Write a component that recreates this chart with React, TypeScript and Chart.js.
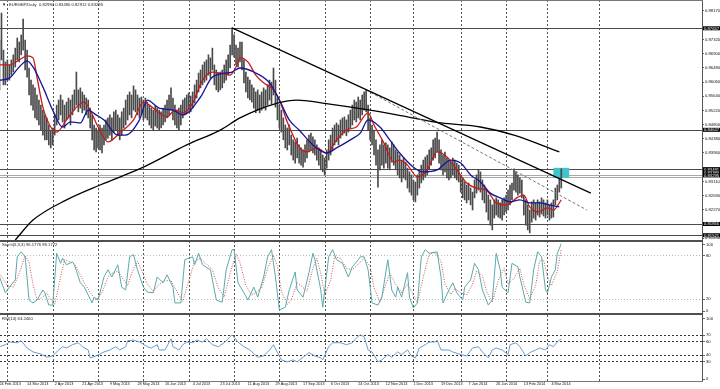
import React, { useEffect, useRef } from "react";
import { Chart, registerables } from "chart.js";

Chart.register(...registerables);

// ---------------- data ----------------
const symbolTitle = "EURGBP,Daily";
const lastOHLC = ["0.82984", "0.83490", "0.82912", "0.83295"];
const stochTitle = "Stoch(5,3,3) 96.1776 89.1772";
const rsiTitle = "RSI(14) 63.2400";

const dateLabels = [
  "24 Feb 2013", "14 Mar 2013", "2 Apr 2013", "21 Apr 2013", "9 May 2013", "28 May 2013",
  "16 Jun 2013", "4 Jul 2013", "23 Jul 2013", "11 Aug 2013", "29 Aug 2013", "17 Sep 2013",
  "6 Oct 2013", "24 Oct 2013", "12 Nov 2013", "1 Dec 2013", "19 Dec 2013", "7 Jan 2014",
  "26 Jan 2014", "13 Feb 2014", "4 Mar 2014",
];
const barsPerLabel = 14;
const monthStartBars = [4, 27, 50, 73, 96, 119, 142, 165, 188, 210, 234, 257, 278, 304];

const highs = [
  0.8731, 0.8811, 0.8701, 0.8666, 0.8672, 0.8657, 0.8672, 0.8687, 0.8707, 0.8737,
  0.8725, 0.8746, 0.8793, 0.8731, 0.8701, 0.8648, 0.8612, 0.8598, 0.8589, 0.8568,
  0.8553, 0.8538, 0.8523, 0.8509, 0.8500, 0.8479, 0.8464, 0.8470, 0.8509, 0.8538,
  0.8553, 0.8568, 0.8553, 0.8538, 0.8547, 0.8559, 0.8553, 0.8568, 0.8583, 0.8636,
  0.8583, 0.8589, 0.8577, 0.8568, 0.8559, 0.8553, 0.8529, 0.8509, 0.8479, 0.8470,
  0.8464, 0.8479, 0.8470, 0.8479, 0.8494, 0.8500, 0.8509, 0.8500, 0.8518, 0.8523,
  0.8509, 0.8500, 0.8518, 0.8529, 0.8553, 0.8568, 0.8577, 0.8568, 0.8595, 0.8583,
  0.8568, 0.8559, 0.8562, 0.8553, 0.8559, 0.8547, 0.8538, 0.8529, 0.8523, 0.8535,
  0.8529, 0.8523, 0.8518, 0.8529, 0.8538, 0.8553, 0.8568, 0.8589, 0.8559, 0.8538,
  0.8523, 0.8529, 0.8538, 0.8553, 0.8559, 0.8568, 0.8574, 0.8565, 0.8577, 0.8598,
  0.8612, 0.8633, 0.8642, 0.8657, 0.8666, 0.8672, 0.8687, 0.8678, 0.8707, 0.8657,
  0.8642, 0.8633, 0.8636, 0.8642, 0.8657, 0.8672, 0.8687, 0.8716, 0.8767, 0.8746,
  0.8716, 0.8707, 0.8725, 0.8725, 0.8672, 0.8636, 0.8621, 0.8612, 0.8598, 0.8589,
  0.8577, 0.8583, 0.8568, 0.8577, 0.8589, 0.8583, 0.8598, 0.8612, 0.8606, 0.8648,
  0.8612, 0.8559, 0.8538, 0.8523, 0.8500, 0.8479, 0.8470, 0.8479, 0.8449, 0.8435,
  0.8429, 0.8440, 0.8420, 0.8411, 0.8405, 0.8420, 0.8435, 0.8449, 0.8455, 0.8444,
  0.8435, 0.8420, 0.8411, 0.8405, 0.8390, 0.8381, 0.8405, 0.8435, 0.8449, 0.8470,
  0.8479, 0.8485, 0.8479, 0.8494, 0.8500, 0.8503, 0.8494, 0.8509, 0.8523, 0.8538,
  0.8553, 0.8547, 0.8562, 0.8553, 0.8568, 0.8577, 0.8583, 0.8538, 0.8500, 0.8479,
  0.8464, 0.8435, 0.8405, 0.8420, 0.8435, 0.8420, 0.8426, 0.8420, 0.8411, 0.8429,
  0.8420, 0.8405, 0.8399, 0.8390, 0.8375, 0.8381, 0.8369, 0.8351, 0.8340, 0.8331,
  0.8316, 0.8310, 0.8331, 0.8346, 0.8360, 0.8375, 0.8384, 0.8390, 0.8405, 0.8411,
  0.8435, 0.8440, 0.8458, 0.8435, 0.8405, 0.8390, 0.8399, 0.8381, 0.8375, 0.8369,
  0.8381, 0.8375, 0.8366, 0.8360, 0.8331, 0.8322, 0.8310, 0.8301, 0.8307, 0.8292,
  0.8280, 0.8316, 0.8331, 0.8346, 0.8340, 0.8316, 0.8301, 0.8286, 0.8271, 0.8257,
  0.8242, 0.8257, 0.8263, 0.8257, 0.8248, 0.8257, 0.8263, 0.8271, 0.8286, 0.8301,
  0.8307, 0.8349, 0.8340, 0.8331, 0.8322, 0.8316, 0.8271, 0.8257, 0.8242, 0.8227,
  0.8251, 0.8257, 0.8248, 0.8257, 0.8251, 0.8263, 0.8257, 0.8248, 0.8257, 0.8242,
  0.8248, 0.8257, 0.8292, 0.8301, 0.8322, 0.8349,
];

const lows = [
  0.8583, 0.8672, 0.8598, 0.8598, 0.8612, 0.8612, 0.8627, 0.8636, 0.8651, 0.8672,
  0.8666, 0.8687, 0.8701, 0.8642, 0.8621, 0.8568, 0.8538, 0.8523, 0.8500, 0.8494,
  0.8479, 0.8464, 0.8449, 0.8435, 0.8435, 0.8420, 0.8411, 0.8420, 0.8449, 0.8479,
  0.8494, 0.8509, 0.8488, 0.8470, 0.8494, 0.8500, 0.8479, 0.8509, 0.8523, 0.8538,
  0.8518, 0.8529, 0.8515, 0.8523, 0.8509, 0.8500, 0.8470, 0.8435, 0.8405, 0.8399,
  0.8411, 0.8405, 0.8396, 0.8420, 0.8435, 0.8440, 0.8449, 0.8435, 0.8458, 0.8464,
  0.8449, 0.8435, 0.8449, 0.8470, 0.8479, 0.8494, 0.8509, 0.8500, 0.8523, 0.8518,
  0.8509, 0.8500, 0.8509, 0.8494, 0.8500, 0.8494, 0.8479, 0.8470, 0.8464, 0.8476,
  0.8470, 0.8464, 0.8470, 0.8479, 0.8488, 0.8500, 0.8509, 0.8523, 0.8494, 0.8479,
  0.8470, 0.8464, 0.8479, 0.8500, 0.8509, 0.8515, 0.8523, 0.8518, 0.8529, 0.8544,
  0.8559, 0.8577, 0.8589, 0.8598, 0.8606, 0.8612, 0.8627, 0.8618, 0.8642, 0.8598,
  0.8583, 0.8577, 0.8583, 0.8589, 0.8604, 0.8612, 0.8627, 0.8648, 0.8687, 0.8681,
  0.8657, 0.8651, 0.8666, 0.8642, 0.8604, 0.8577, 0.8559, 0.8553, 0.8547, 0.8529,
  0.8515, 0.8523, 0.8515, 0.8523, 0.8529, 0.8523, 0.8538, 0.8553, 0.8541, 0.8568,
  0.8532, 0.8494, 0.8470, 0.8458, 0.8435, 0.8411, 0.8405, 0.8420, 0.8390, 0.8375,
  0.8366, 0.8381, 0.8366, 0.8360, 0.8354, 0.8369, 0.8381, 0.8399, 0.8405, 0.8396,
  0.8390, 0.8375, 0.8360, 0.8346, 0.8340, 0.8331, 0.8351, 0.8375, 0.8390, 0.8405,
  0.8420, 0.8429, 0.8420, 0.8440, 0.8449, 0.8455, 0.8447, 0.8458, 0.8470, 0.8479,
  0.8494, 0.8488, 0.8500, 0.8494, 0.8509, 0.8523, 0.8518, 0.8464, 0.8435, 0.8420,
  0.8390, 0.8360, 0.8295, 0.8346, 0.8360, 0.8351, 0.8366, 0.8351, 0.8346, 0.8369,
  0.8360, 0.8346, 0.8331, 0.8322, 0.8310, 0.8322, 0.8316, 0.8292, 0.8280, 0.8271,
  0.8257, 0.8251, 0.8271, 0.8292, 0.8307, 0.8316, 0.8325, 0.8331, 0.8346, 0.8360,
  0.8375, 0.8381, 0.8399, 0.8366, 0.8346, 0.8331, 0.8340, 0.8322, 0.8316, 0.8322,
  0.8331, 0.8322, 0.8316, 0.8310, 0.8280, 0.8263, 0.8257, 0.8248, 0.8257, 0.8242,
  0.8227, 0.8263, 0.8277, 0.8286, 0.8280, 0.8257, 0.8248, 0.8221, 0.8197, 0.8182,
  0.8168, 0.8203, 0.8212, 0.8206, 0.8203, 0.8197, 0.8212, 0.8221, 0.8227, 0.8242,
  0.8257, 0.8286, 0.8280, 0.8271, 0.8277, 0.8263, 0.8212, 0.8182, 0.8168, 0.8159,
  0.8191, 0.8203, 0.8197, 0.8212, 0.8206, 0.8215, 0.8209, 0.8203, 0.8212, 0.8197,
  0.8203, 0.8206, 0.8242, 0.8257, 0.8280, 0.8292,
];

// [bar index, price]
const fastMA = [
  [0, 0.8657], [5, 0.8657], [10, 0.8672], [14, 0.8684], [17, 0.8678], [19, 0.8621], [22, 0.8532],
  [26, 0.8473], [29, 0.8458], [34, 0.8494], [39, 0.8532], [43, 0.8547], [46, 0.8523], [50, 0.8473],
  [55, 0.8429], [61, 0.8455], [68, 0.8494], [73, 0.8547], [76, 0.8538], [81, 0.8515], [85, 0.8503],
  [89, 0.8523], [93, 0.8515], [98, 0.8544], [103, 0.8612], [108, 0.8636], [112, 0.8633], [117, 0.8627],
  [120, 0.8651], [122, 0.8678], [126, 0.8666], [130, 0.8627], [134, 0.8604], [139, 0.8583], [142, 0.8553],
  [146, 0.8488], [152, 0.8414], [156, 0.8399], [161, 0.8411], [166, 0.8396], [171, 0.8435], [176, 0.8464],
  [181, 0.8473], [187, 0.8515], [190, 0.8479], [195, 0.8426], [200, 0.8369], [203, 0.8375], [207, 0.8360],
  [212, 0.8325], [217, 0.8346], [222, 0.8399], [227, 0.8384], [232, 0.8346], [237, 0.8307], [242, 0.8292],
  [247, 0.8286], [252, 0.8248], [257, 0.8242], [263, 0.8265], [266, 0.8271], [269, 0.8236], [273, 0.8221],
  [278, 0.8233], [281, 0.8227], [285, 0.8257],
];
const slowMA = [
  [0, 0.8612], [5, 0.8618], [10, 0.8651], [14, 0.8669], [17, 0.8651], [22, 0.8592], [27, 0.8523],
  [32, 0.8473], [36, 0.8488], [41, 0.8485], [45, 0.8523], [49, 0.8509], [53, 0.8494], [60, 0.8449],
  [64, 0.8449], [71, 0.8494], [75, 0.8553], [81, 0.8529], [88, 0.8523], [93, 0.8509], [102, 0.8562],
  [108, 0.8621], [118, 0.8636], [122, 0.8648], [129, 0.8636], [137, 0.8604], [142, 0.8553], [147, 0.8494],
  [152, 0.8464], [159, 0.8420], [166, 0.8396], [171, 0.8411], [178, 0.8435], [183, 0.8455], [187, 0.8494],
  [193, 0.8473], [198, 0.8435], [203, 0.8396], [210, 0.8354], [215, 0.8340], [222, 0.8346], [229, 0.8375],
  [234, 0.8366], [239, 0.8331], [244, 0.8310], [249, 0.8277], [254, 0.8263], [259, 0.8251], [264, 0.8257],
  [269, 0.8248], [274, 0.8248], [279, 0.8242], [284, 0.8236],
];
const ma200 = [
  [8, 0.8138], [17, 0.8197], [34, 0.8257], [51, 0.8301], [73, 0.8354], [95, 0.8420], [112, 0.8464],
  [122, 0.8500], [141, 0.8544], [151, 0.8553], [164, 0.8544], [188, 0.8523], [207, 0.8503],
  [224, 0.8485], [244, 0.8473], [261, 0.8449], [284, 0.8399],
];
const trendLine = [[118, 0.8767], [300, 0.8277]];
const channelLine = [[186, 0.8583], [298, 0.8227]];
const supportResistance = [0.87657, 0.84647, 0.83481, 0.81855, 0.81521];
const bidAskLines = [0.83295, 0.83245];
const priceBoxes = [0.87657, 0.84647, 0.83481, 0.8338, 0.83295, 0.81855, 0.81521];
const zone = { fromBar: 281, toBar: 289, top: 0.8352, bottom: 0.8322 };
const priceTicks = [
  0.8817, 0.8732, 0.869, 0.8648, 0.8606, 0.8564, 0.8522, 0.848, 0.8438, 0.8396, 0.8311, 0.8269,
  0.8227, 0.8143,
];

const stochMain = [
  [0, 50], [3, 28], [5, 36], [8, 46], [9, 78], [11, 85], [13, 78], [15, 18], [17, 14], [19, 18],
  [22, 32], [23, 28], [25, 11], [27, 11], [29, 83], [31, 69], [32, 76], [34, 67], [37, 71], [38, 67],
  [41, 42], [43, 36], [47, 14], [48, 22], [50, 18], [53, 50], [55, 60], [57, 50], [60, 67], [62, 36],
  [64, 32], [66, 78], [68, 81], [70, 60], [73, 36], [75, 29], [78, 28], [80, 50], [83, 42], [85, 53],
  [88, 36], [89, 14], [92, 14], [94, 74], [98, 78], [99, 67], [101, 83], [103, 67], [107, 60], [110, 18],
  [113, 15], [115, 60], [118, 88], [119, 88], [121, 42], [124, 28], [126, 18], [129, 36], [131, 22],
  [134, 50], [136, 78], [138, 88], [140, 50], [142, 4], [145, 8], [147, 32], [150, 57], [151, 32],
  [154, 22], [157, 56], [159, 83], [160, 74], [163, 32], [164, 8], [167, 78], [169, 88], [171, 74],
  [174, 69], [177, 50], [179, 64], [182, 74], [183, 78], [185, 78], [187, 60], [189, 14], [192, 11],
  [194, 22], [197, 74], [199, 32], [201, 22], [202, 36], [204, 22], [207, 56], [208, 22], [210, 7],
  [212, 14], [214, 78], [216, 88], [218, 83], [222, 85], [224, 50], [225, 14], [228, 32], [230, 42],
  [232, 28], [235, 18], [236, 36], [239, 46], [241, 69], [243, 60], [245, 32], [248, 11], [250, 18],
  [252, 83], [254, 60], [255, 36], [258, 28], [260, 69], [263, 64], [264, 50], [267, 15], [269, 14],
  [271, 60], [273, 85], [275, 78], [277, 32], [278, 28], [280, 50], [282, 60], [283, 83], [285, 96.18],
];
const stochSignal = [
  [0, 55], [4, 38], [7, 36], [10, 55], [13, 80], [15, 70], [17, 40], [19, 18], [22, 22], [24, 28],
  [26, 18], [28, 12], [31, 50], [33, 74], [35, 72], [38, 68], [40, 58], [43, 42], [46, 28], [49, 18],
  [52, 28], [55, 50], [57, 55], [60, 58], [62, 50], [65, 38], [67, 55], [70, 72], [72, 60], [75, 40],
  [78, 30], [81, 40], [84, 45], [87, 45], [90, 30], [93, 16], [96, 45], [99, 72], [102, 76], [105, 68],
  [108, 60], [111, 35], [114, 22], [117, 55], [120, 82], [122, 70], [125, 38], [128, 25], [130, 28],
  [133, 35], [136, 62], [139, 80], [141, 65], [143, 30], [146, 12], [148, 18], [151, 42], [153, 38],
  [156, 30], [159, 62], [161, 76], [163, 55], [165, 25], [168, 45], [170, 78], [173, 76], [176, 62],
  [179, 60], [182, 68], [185, 76], [188, 65], [190, 35], [193, 15], [196, 40], [198, 55], [201, 40],
  [204, 28], [207, 40], [209, 30], [212, 14], [215, 50], [218, 82], [221, 84], [224, 72], [226, 40],
  [229, 26], [231, 34], [234, 28], [237, 25], [240, 40], [242, 58], [245, 52], [247, 30], [250, 15],
  [253, 45], [256, 62], [258, 40], [261, 48], [264, 62], [266, 40], [269, 20], [272, 38], [274, 72],
  [276, 74], [278, 50], [280, 38], [283, 58], [285, 89.18],
];
const stochLevels = [20, 80];
const stochAxisValues = [100, 80, 20, 0];

const rsiValues = [
  [0, 52], [3, 55], [5, 59], [9, 58], [11, 61], [14, 50], [17, 44], [21, 41], [24, 36], [27, 38],
  [30, 47], [32, 52], [34, 50], [37, 55], [40, 58], [42, 52], [45, 47], [46, 35], [49, 38], [53, 44],
  [56, 47], [59, 52], [61, 47], [64, 52], [65, 61], [68, 62], [71, 59], [75, 52], [77, 50], [80, 55],
  [81, 47], [84, 47], [87, 64], [88, 52], [91, 47], [93, 55], [95, 59], [98, 58], [100, 62], [103, 59],
  [105, 64], [108, 55], [111, 52], [114, 58], [117, 67], [118, 70], [121, 59], [124, 52], [127, 47],
  [131, 36], [134, 38], [137, 47], [139, 55], [141, 43], [143, 32], [146, 29], [149, 32], [151, 29],
  [154, 36], [157, 43], [160, 38], [163, 35], [164, 32], [167, 52], [169, 58], [173, 58], [176, 55],
  [179, 58], [181, 65], [183, 70], [185, 67], [187, 47], [189, 44], [192, 29], [194, 32], [197, 40],
  [199, 36], [202, 44], [204, 40], [207, 47], [209, 38], [211, 35], [213, 50], [216, 55], [218, 59],
  [221, 59], [222, 62], [224, 47], [228, 47], [230, 44], [234, 40], [237, 38], [240, 50], [243, 52],
  [245, 44], [248, 35], [250, 47], [252, 50], [255, 47], [258, 40], [259, 55], [262, 58], [264, 52],
  [267, 38], [269, 43], [272, 47], [274, 50], [277, 47], [279, 55], [281, 52], [283, 59], [284, 62],
  [285, 63.24],
];
const rsiLevels = [30, 40, 60, 70];
const rsiAxisValues = [100, 70, 60, 40, 30, 0];

// ---------------- layout / style ----------------
const X_MIN = 0.25;
const X_MAX = 356.4;
const PRICE_MAX = 0.88496;
const PRICE_MIN = 0.8138;
const AXIS_W = 18;
const FONT = '"Liberation Sans", Arial, sans-serif';
const TXT = "#111";

const toXY = (pts: number[][]) => pts.map(([x, y]) => ({ x, y }));

function drawMonthLines(chart: any) {
  const { ctx, chartArea: a, scales } = chart;
  const x = scales.x;
  ctx.save();
  ctx.strokeStyle = "#555";
  ctx.lineWidth = 1;
  ctx.setLineDash([2, 2]);
  for (const b of monthStartBars) {
    const px = Math.round(x.getPixelForValue(b)) + 0.5;
    if (px < a.left || px > a.right) continue;
    ctx.beginPath();
    ctx.moveTo(px, a.top);
    ctx.lineTo(px, a.bottom);
    ctx.stroke();
  }
  ctx.restore();
}

function drawHLevels(chart: any, levels: number[], color: string, dash: number[]) {
  const { ctx, chartArea: a, scales } = chart;
  const y = scales.y;
  ctx.save();
  ctx.strokeStyle = color;
  ctx.lineWidth = 1;
  ctx.setLineDash(dash);
  for (const v of levels) {
    const py = Math.round(y.getPixelForValue(v)) + 0.5;
    ctx.beginPath();
    ctx.moveTo(a.left, py);
    ctx.lineTo(a.right, py);
    ctx.stroke();
  }
  ctx.restore();
}

function drawSideLabels(chart: any, values: number[]) {
  const { ctx, chartArea: a, scales } = chart;
  const y = scales.y;
  ctx.save();
  ctx.font = `4.2px ${FONT}`;
  ctx.textAlign = "left";
  ctx.textBaseline = "middle";
  for (const v of values) {
    let py = y.getPixelForValue(v);
    if (v === y.max) py += 3;
    if (v === y.min) py -= 2.5;
    ctx.fillStyle = "#666";
    ctx.fillRect(a.right + 1, Math.round(py), 2, 1);
    ctx.fillStyle = TXT;
    ctx.fillText(String(v), a.right + 4, py + 0.5);
  }
  ctx.restore();
}

const mainPlugin = {
  id: "mainDecor",
  beforeDatasetsDraw(chart: any) {
    const { ctx, scales } = chart;
    drawMonthLines(chart);
    drawHLevels(chart, supportResistance, "#4a4a4a", []);
    drawHLevels(chart, bidAskLines, "#a8a8a8", []);
    const x1 = scales.x.getPixelForValue(zone.fromBar);
    const x2 = scales.x.getPixelForValue(zone.toBar);
    const y1 = scales.y.getPixelForValue(zone.top);
    const y2 = scales.y.getPixelForValue(zone.bottom);
    ctx.save();
    ctx.fillStyle = "#3fc6cc";
    ctx.fillRect(x1, y1, x2 - x1, y2 - y1);
    ctx.restore();
  },
  afterDraw(chart: any) {
    const { ctx, chartArea: a, scales } = chart;
    ctx.save();
    ctx.fillStyle = "#777";
    ctx.fillRect(0, 0, a.right + 1, 1);
    ctx.font = `4.2px ${FONT}`;
    ctx.textBaseline = "middle";
    for (const v of priceBoxes) {
      const py = scales.y.getPixelForValue(v);
      ctx.fillStyle = "#000";
      ctx.fillRect(a.right + 1, py - 2, AXIS_W - 1, 4);
      ctx.fillStyle = "#fff";
      ctx.fillText(v.toFixed(5), a.right + 2, py + 0.3);
    }
    ctx.fillStyle = "#222";
    ctx.font = `4.2px ${FONT}`;
    ctx.fillText("\u25BC", 2, 5);
    ctx.fillText(`${symbolTitle}  ${lastOHLC.join(" ")}`, 9, 5);
    ctx.restore();
  },
};

const stochPlugin = {
  id: "stochDecor",
  beforeDatasetsDraw(chart: any) {
    drawMonthLines(chart);
    drawHLevels(chart, stochLevels, "#b8b8b8", [1, 2]);
  },
  afterDraw(chart: any) {
    const { ctx, chartArea: a } = chart;
    ctx.save();
    ctx.fillStyle = "#505050";
    ctx.fillRect(0, 0, a.right + 1, 2);
    ctx.fillStyle = "#222";
    ctx.font = `4.2px ${FONT}`;
    ctx.textBaseline = "middle";
    ctx.fillText(stochTitle, 2, a.top + 3.5);
    ctx.restore();
    drawSideLabels(chart, stochAxisValues);
  },
};

const rsiPlugin = {
  id: "rsiDecor",
  beforeDatasetsDraw(chart: any) {
    drawMonthLines(chart);
    drawHLevels(chart, rsiLevels, "#333", [2, 2]);
  },
  afterDraw(chart: any) {
    const { ctx, chartArea: a } = chart;
    ctx.save();
    ctx.fillStyle = "#505050";
    ctx.fillRect(0, 0, a.right + 1, 2);
    ctx.fillStyle = "#777";
    ctx.fillRect(0, a.bottom, a.right + 1, 1);
    ctx.fillStyle = "#222";
    ctx.font = `4.2px ${FONT}`;
    ctx.textBaseline = "middle";
    ctx.fillText(rsiTitle, 2, a.top + 3.5);
    ctx.restore();
    drawSideLabels(chart, rsiAxisValues);
  },
};

const hiddenX = () => ({
  type: "linear",
  min: X_MIN,
  max: X_MAX,
  offset: false,
  display: false,
});

const sideY = (min: number, max: number) => ({
  type: "linear",
  position: "right",
  min,
  max,
  ticks: { display: false },
  grid: { display: false },
  border: { display: true, color: "#555" },
  afterFit: (s: any) => {
    s.width = AXIS_W;
    s.paddingTop = 0;
    s.paddingBottom = 0;
  },
});

const baseOptions = {
  responsive: false,
  animation: false,
  events: [],
  plugins: { legend: { display: false }, tooltip: { enabled: false } },
};

function mainConfig(): any {
  return {
    type: "bar",
    data: {
      datasets: [
        { type: "line", label: "Trend", data: toXY(trendLine), borderColor: "#000", borderWidth: 1.2, pointRadius: 0, order: 1 },
        { type: "line", label: "Channel", data: toXY(channelLine), borderColor: "#777", borderWidth: 1, borderDash: [3, 2], pointRadius: 0, order: 2 },
        { type: "line", label: "MA200", data: toXY(ma200), borderColor: "#000", borderWidth: 1.3, pointRadius: 0, cubicInterpolationMode: "monotone", order: 3 },
        { type: "line", label: "MA slow", data: toXY(slowMA), borderColor: "#15159a", borderWidth: 1.3, pointRadius: 0, cubicInterpolationMode: "monotone", order: 4 },
        { type: "line", label: "MA fast", data: toXY(fastMA), borderColor: "#c81a1a", borderWidth: 1.3, pointRadius: 0, cubicInterpolationMode: "monotone", order: 4 },
        {
          type: "bar",
          label: "EURGBP",
          data: highs.map((h, i) => ({ x: i, y: [lows[i], h] })),
          backgroundColor: "#4a4a4a",
          barThickness: 1,
          grouped: false,
          order: 10,
        },
      ],
    },
    options: {
      ...baseOptions,
      layout: { padding: 0 },
      scales: {
        x: hiddenX(),
        y: {
          type: "linear",
          position: "right",
          min: PRICE_MIN,
          max: PRICE_MAX,
          afterBuildTicks: (s: any) => {
            s.ticks = priceTicks.map((v) => ({ value: v }));
          },
          afterFit: (s: any) => {
            s.width = AXIS_W;
            s.paddingTop = 0;
            s.paddingBottom = 0;
          },
          ticks: {
            autoSkip: false,
            padding: 1,
            color: TXT,
            font: { family: FONT, size: 4.2 },
            callback: (v: any) => Number(v).toFixed(5),
          },
          grid: { drawOnChartArea: false, tickLength: 2, color: "#666" },
          border: { display: true, color: "#555" },
        },
      },
    },
    plugins: [mainPlugin],
  };
}

function stochConfig(): any {
  return {
    type: "line",
    data: {
      datasets: [
        { label: "Signal", data: toXY(stochSignal), borderColor: "#c85050", borderWidth: 1, borderDash: [1, 1.5], pointRadius: 0, order: 2 },
        { label: "Main", data: toXY(stochMain), borderColor: "#5aa9aa", borderWidth: 1, pointRadius: 0, order: 1 },
      ],
    },
    options: {
      ...baseOptions,
      layout: { padding: { top: 1, bottom: 0, left: 0, right: 0 } },
      scales: { x: hiddenX(), y: sideY(0, 100) },
    },
    plugins: [stochPlugin],
  };
}

function rsiConfig(): any {
  return {
    type: "line",
    data: {
      datasets: [
        { label: "RSI", data: toXY(rsiValues), borderColor: "#6a9dcc", borderWidth: 1, pointRadius: 0 },
      ],
    },
    options: {
      ...baseOptions,
      layout: { padding: { top: 2, bottom: 0, left: 0, right: 0 } },
      scales: {
        x: {
          type: "linear",
          min: X_MIN,
          max: X_MAX,
          offset: false,
          position: "bottom",
          afterBuildTicks: (s: any) => {
            s.ticks = dateLabels.map((_, k) => ({ value: k * barsPerLabel }));
          },
          afterFit: (s: any) => {
            s.height = 8;
            s.paddingLeft = 0;
            s.paddingRight = 0;
          },
          ticks: {
            autoSkip: false,
            maxRotation: 0,
            minRotation: 0,
            align: "start",
            padding: 1,
            color: TXT,
            font: { family: FONT, size: 3.8 },
            callback: (_v: any, idx: number) => dateLabels[idx],
          },
          grid: { display: false, drawTicks: false },
          border: { display: false },
        },
        y: sideY(0, 100),
      },
    },
    plugins: [rsiPlugin],
  };
}

export default function App() {
  const mainRef = useRef<HTMLCanvasElement | null>(null);
  const stochRef = useRef<HTMLCanvasElement | null>(null);
  const rsiRef = useRef<HTMLCanvasElement | null>(null);

  useEffect(() => {
    const charts = [
      new Chart(mainRef.current as HTMLCanvasElement, mainConfig()),
      new Chart(stochRef.current as HTMLCanvasElement, stochConfig()),
      new Chart(rsiRef.current as HTMLCanvasElement, rsiConfig()),
    ];
    return () => charts.forEach((c) => c.destroy());
  }, []);

  return (
    <div
      style={{
        position: "fixed",
        left: 0,
        top: 0,
        width: 720,
        height: 389,
        background: "#fff",
        overflow: "hidden",
      }}
    >
      <canvas ref={mainRef} width={720} height={240} style={{ position: "absolute", left: 0, top: 0, width: 720, height: 240 }} />
      <canvas ref={stochRef} width={720} height={73} style={{ position: "absolute", left: 0, top: 240, width: 720, height: 73 }} />
      <canvas ref={rsiRef} width={720} height={76} style={{ position: "absolute", left: 0, top: 313, width: 720, height: 76 }} />
    </div>
  );
}
